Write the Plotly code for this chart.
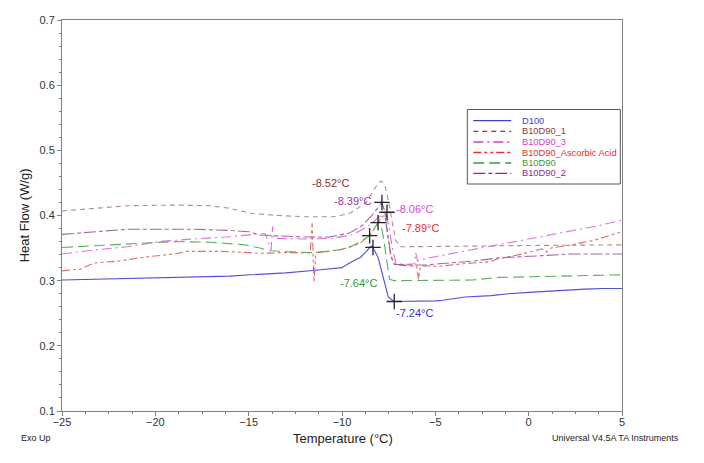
import plotly.graph_objects as go

# ---------------- data ----------------
d100_x = [-25, -22, -19, -16, -14.9, -13, -11.4, -10, -9.6, -9.0, -8.7, -8.43, -8.25, -8.06, -7.8, -7.52, -7.22,
          -6, -5, -4.6, -3.4, -2, -1.1, 0, 1, 2, 3, 4, 5]
d100_y = [0.301, 0.303, 0.305, 0.307, 0.309, 0.312, 0.316, 0.320, 0.327, 0.336, 0.345, 0.353, 0.346, 0.335, 0.306,
          0.275, 0.268, 0.268, 0.269, 0.270, 0.275, 0.277, 0.280, 0.282, 0.284, 0.286, 0.287, 0.288, 0.288]

b1_x = [-25, -23, -21.5, -19, -17.1, -16, -14.8, -13.4, -12, -10.5, -9.6, -8.9, -8.7, -8.4, -8.1, -7.9, -7.7,
        -7.5, -7.3, -7.13, -6.86, -5, -3, 0, 2, 5]
b1_y = [0.407, 0.411, 0.415, 0.416, 0.415, 0.411, 0.403, 0.400, 0.398, 0.398, 0.403, 0.416, 0.420, 0.434, 0.448,
        0.453, 0.447, 0.420, 0.385, 0.362, 0.352, 0.352, 0.353, 0.354, 0.354, 0.355]

b3_x = [-25, -23.3, -21.5, -19.8, -18, -16.2, -14.4, -14.1, -13.8, -13.72, -13.65, -12, -10.5, -9.5, -9, -8.5,
        -8.0, -7.65, -7.5, -7.3, -7.1, -6.5, -6.1, -6.05, -5.95, -5.5, -4.8, -3.5, -1.6, 0, 1, 2.5, 3.7, 5]
b3_y = [0.341, 0.347, 0.352, 0.360, 0.364, 0.367, 0.372, 0.372, 0.347, 0.383, 0.365, 0.364, 0.365, 0.370, 0.377,
        0.386, 0.398, 0.406, 0.385, 0.350, 0.326, 0.325, 0.326, 0.343, 0.330, 0.334, 0.338, 0.345, 0.356, 0.364,
        0.369, 0.378, 0.384, 0.393]

asc_x = [-25, -24, -23.3, -22, -20.6, -19, -18.3, -16.5, -15, -14.4, -13, -11.7, -11.6, -11.5, -11.4, -10.2,
         -9.5, -9, -8.56, -8.2, -7.9, -7.7, -7.55, -7.4, -7.2, -7.0, -6.5, -6.0, -5.9, -5.8, -5.6, -4.8, -3.5,
         -2.1, -1.6, -0.5, 0.2, 0.7, 0.95, 1.2, 2.3, 3.5, 5]
asc_y = [0.315, 0.318, 0.327, 0.330, 0.336, 0.341, 0.345, 0.345, 0.343, 0.342, 0.343, 0.343, 0.388, 0.298, 0.343,
         0.347, 0.352, 0.358, 0.369, 0.382, 0.398, 0.400, 0.370, 0.340, 0.326, 0.324, 0.323, 0.322, 0.302, 0.322,
         0.323, 0.322, 0.326, 0.329, 0.334, 0.340, 0.345, 0.349, 0.344, 0.350, 0.355, 0.362, 0.375]

b0_x = [-25, -23, -21, -19, -17, -15.2, -14.4, -13.9, -12.5, -11.7, -10.7, -10, -9.5, -9, -8.52, -8.3, -8.07,
        -7.95, -7.8, -7.6, -7.45, -7.2, -6, -4.8, -3, -1.6, 0, 2, 5]
b0_y = [0.351, 0.354, 0.358, 0.360, 0.359, 0.355, 0.350, 0.346, 0.344, 0.343, 0.345, 0.348, 0.353, 0.360, 0.369,
        0.378, 0.389, 0.390, 0.370, 0.330, 0.302, 0.300, 0.300, 0.300, 0.301, 0.305, 0.306, 0.308, 0.309]

b2_x = [-25, -23, -21.5, -19.8, -18, -16, -15, -14.4, -13, -12, -10.7, -9.6, -8.9, -8.4, -7.86, -7.7, -7.55,
        -7.35, -7.2, -6.5, -5.5, -4.8, -3, -1.6, 0.5, 2.3, 5]
b2_y = [0.371, 0.375, 0.379, 0.379, 0.379, 0.377, 0.375, 0.370, 0.368, 0.367, 0.367, 0.373, 0.385, 0.400, 0.420,
        0.405, 0.370, 0.335, 0.325, 0.324, 0.324, 0.326, 0.330, 0.335, 0.338, 0.341, 0.341]

series_names = ["D100", "B10D90_1", "B10D90_3", "B10D90_Ascorbic Acid", "B10D90", "B10D90_2"]

cross_x = [-7.86, -7.59, -8.07, -8.52, -8.34, -7.20]
cross_y = [0.420, 0.405, 0.389, 0.369, 0.351, 0.268]

label_text = ["-8.52°C", "-8.39°C", "-8.06°C", "-7.89°C", "-7.64°C", "-7.24°C"]
label_x = [-10.6, -9.45, -6.1, -5.8, -9.1, -6.1]
label_y = [0.450, 0.422, 0.410, 0.381, 0.296, 0.250]

# ---------------- styles ----------------
line_colors = ["#5050d8", "#b08c8c", "#e070e0", "#e06a6a", "#5cb05c", "#a068a8"]
legend_colors = ["#4040d0", "#8c3a3a", "#d83cd8", "#e03030", "#3a9a3a", "#8a2a90"]
dashes = ["solid", "5px,4px", "10px,4px,2px,4px", "8px,3px,3px,3px,3px,3px", "11px,5px", "12px,3px,4px,3px"]
label_colors = ["#8c2c2c", "#9a34a8", "#d848d8", "#e03030", "#2e9a2e", "#3434c8"]

xs = [d100_x, b1_x, b3_x, asc_x, b0_x, b2_x]
ys = [d100_y, b1_y, b3_y, asc_y, b0_y, b2_y]

FONT = "Liberation Sans, Arial, sans-serif"

fig = go.Figure()
for i in range(6):
    fig.add_trace(go.Scatter(x=xs[i], y=ys[i], mode="lines", name=series_names[i],
                             line=dict(color=line_colors[i], width=1.1, dash=dashes[i]),
                             showlegend=False))

fig.add_trace(go.Scatter(x=cross_x, y=cross_y, mode="markers", showlegend=False,
                         marker=dict(symbol="cross-thin", size=11, line=dict(color="#222222", width=1.3))))

annotations = []
for t, x, y, c in zip(label_text, label_x, label_y, label_colors):
    annotations.append(dict(x=x, y=y, xref="x", yref="y", text=t, showarrow=False,
                            xanchor="center", yanchor="middle",
                            font=dict(family=FONT, size=11, color=c)))

# plot area geometry (pixels) for paper conversions
L, R, T, B = 61.7, 621.7, 20, 411


def px(xp):
    return (xp - L) / (R - L)


def py(yp):
    return (B - yp) / (B - T)


shapes = []
# legend box
shapes.append(dict(type="rect", xref="paper", yref="paper", x0=px(467), x1=px(620), y0=py(184), y1=py(109.5),
                   line=dict(color="#555555", width=1), fillcolor="white", layer="above"))
leg_y = [120.7, 131.4, 142, 152.5, 163, 173.4]
for i in range(6):
    shapes.append(dict(type="line", xref="paper", yref="paper", x0=px(473), x1=px(511), y0=py(leg_y[i]),
                       y1=py(leg_y[i]), line=dict(color=legend_colors[i], width=1.3, dash=dashes[i]),
                       layer="above"))
    annotations.append(dict(x=px(520), y=py(leg_y[i]), xref="paper", yref="paper", text=series_names[i],
                            showarrow=False, xanchor="left", yanchor="middle",
                            font=dict(family=FONT, size=9.3, color=legend_colors[i])))

# axis titles and footer text
annotations.append(dict(x=px(343), y=py(438), xref="paper", yref="paper", text="Temperature (°C)",
                        showarrow=False, xanchor="center", yanchor="middle",
                        font=dict(family=FONT, size=13, color="#222222")))
annotations.append(dict(x=px(24), y=py(215), xref="paper", yref="paper", text="Heat Flow (W/g)",
                        textangle=-90, showarrow=False, xanchor="center", yanchor="middle",
                        font=dict(family=FONT, size=13, color="#222222")))
annotations.append(dict(x=px(19), y=py(438), xref="paper", yref="paper", text="Exo Up", xanchor="left",
                        yanchor="middle", showarrow=False, font=dict(family=FONT, size=9, color="#222222")))
annotations.append(dict(x=px(681), y=py(438), xref="paper", yref="paper",
                        text="Universal V4.5A TA Instruments", xanchor="right", yanchor="middle",
                        showarrow=False, font=dict(family=FONT, size=9, color="#222222")))

axis_common = dict(showline=True, linecolor="#808080", linewidth=1, mirror=True, showgrid=False,
                   zeroline=False, ticks="outside", ticklen=4, tickcolor="#808080",
                   tickfont=dict(family=FONT, size=11, color="#333333"))

fig.update_layout(
    width=704, height=463,
    margin=dict(l=L, r=704 - R, t=T, b=463 - B, pad=0),
    paper_bgcolor="white", plot_bgcolor="white",
    xaxis=dict(range=[-25, 5], tickmode="linear", tick0=-25, dtick=5, ticklabelstandoff=-3,
               minor=dict(dtick=1.25, ticks="outside", ticklen=2, tickcolor="#808080"),
               **axis_common),
    yaxis=dict(range=[0.1, 0.7], tickmode="linear", tick0=0.1, dtick=0.1, tickformat=".1f",
               minor=dict(dtick=0.02, ticks="outside", ticklen=2, tickcolor="#808080"),
               **axis_common),
    annotations=annotations,
    shapes=shapes,
    showlegend=False,
)

fig.write_html("out.html")
